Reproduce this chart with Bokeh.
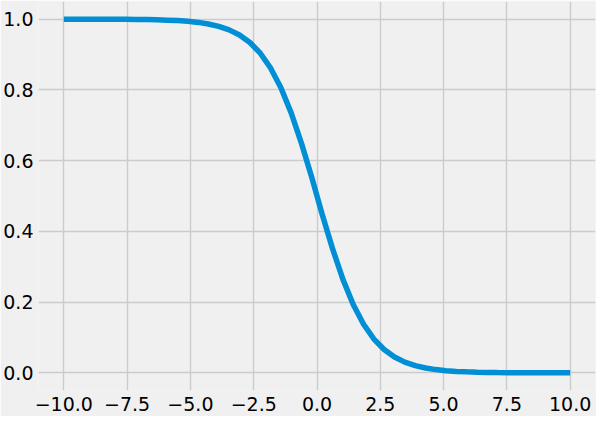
from bokeh.plotting import figure
from bokeh.models import FixedTicker, Range1d
from bokeh.embed import file_html
from bokeh.resources import INLINE

x_vals = [-10.00, -9.59, -9.18, -8.78, -8.37, -7.96, -7.55, -7.14, -6.73, -6.33,
          -5.92, -5.51, -5.10, -4.69, -4.29, -3.88, -3.47, -3.06, -2.65, -2.24,
          -1.84, -1.43, -1.02, -0.61, -0.20, 0.20, 0.61, 1.02, 1.43, 1.84,
          2.24, 2.65, 3.06, 3.47, 3.88, 4.29, 4.69, 5.10, 5.51, 5.92,
          6.33, 6.73, 7.14, 7.55, 7.96, 8.37, 8.78, 9.18, 9.59, 10.00]
y_vals = [1.0000, 0.9999, 0.9999, 0.9998, 0.9998, 0.9997, 0.9995, 0.9992, 0.9988, 0.9982,
          0.9973, 0.9960, 0.9939, 0.9909, 0.9865, 0.9798, 0.9698, 0.9552, 0.9340, 0.9038,
          0.8626, 0.8069, 0.7350, 0.6480, 0.5508, 0.4492, 0.3520, 0.2650, 0.1931, 0.1374,
          0.0962, 0.0660, 0.0448, 0.0302, 0.0202, 0.0135, 0.0091, 0.0061, 0.0040, 0.0027,
          0.0018, 0.0012, 0.0008, 0.0005, 0.0003, 0.0002, 0.0002, 0.0001, 0.0001, 0.0000]
x_ticks = [-10.0, -7.5, -5.0, -2.5, 0.0, 2.5, 5.0, 7.5, 10.0]
x_tick_labels = ["\u221210.0", "\u22127.5", "\u22125.0", "\u22122.5", "0.0", "2.5", "5.0", "7.5", "10.0"]
y_ticks = [0.0, 0.2, 0.4, 0.6, 0.8, 1.0]
y_tick_labels = ["0.0", "0.2", "0.4", "0.6", "0.8", "1.0"]

BG = "#f0f0f0"
p = figure(width=596, height=416, output_backend="svg", toolbar_location=None,
           x_range=Range1d(-11, 11), y_range=Range1d(-0.05, 1.05),
           min_border_left=36, min_border_right=1, min_border_top=1, min_border_bottom=26)
p.background_fill_color = BG
p.border_fill_color = BG
p.outline_line_color = None

p.line(x_vals, y_vals, line_color="#008fd5", line_width=5.5)

for ax in (p.xaxis, p.yaxis):
    ax.axis_line_color = None
    ax.major_tick_line_color = None
    ax.minor_tick_line_color = None
    ax.major_tick_out = 0
    ax.major_tick_in = 0
    ax.major_label_text_font = "DejaVu Sans"
    ax.major_label_text_font_size = "19px"
    ax.major_label_text_color = "#000000"

p.xaxis.ticker = FixedTicker(ticks=x_ticks)
p.xaxis.major_label_overrides = {t: l for t, l in zip(x_ticks, x_tick_labels)}
p.yaxis.ticker = FixedTicker(ticks=y_ticks)
p.yaxis.major_label_overrides = {t: l for t, l in zip(y_ticks, y_tick_labels)}
p.xaxis.major_label_standoff = 6
p.yaxis.major_label_standoff = 5

p.grid.grid_line_color = "#cbcbcb"
p.grid.grid_line_width = 1.4

open("out.html", "w").write(file_html(p, INLINE))
